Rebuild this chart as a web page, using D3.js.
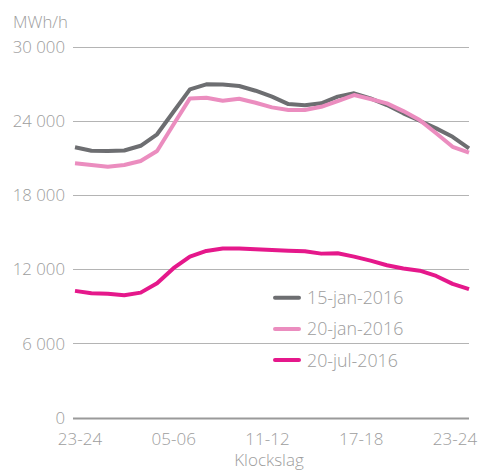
<!DOCTYPE html>
<html>
<head>
<meta charset="utf-8">
<script src="https://cdn.jsdelivr.net/npm/d3@7"></script>
<style>
  body { margin: 0; background: #fff; }
  svg text { font-family: "Open Sans", sans-serif; font-weight: 300; fill: #9d9d9d; }
</style>
</head>
<body>
<svg id="chart" width="479" height="472"></svg>
<script>
// timmar (25 punkter, 23-24 ... 23-24)
var hours = d3.range(25);
var xLabels = ["23-24", "05-06", "11-12", "17-18", "23-24"];
var yTicks = [0, 6000, 12000, 18000, 24000, 30000];

var seriesNames = ["15-jan-2016", "20-jan-2016", "20-jul-2016"];
var seriesColors = ["#6d6e71", "#eb8dbf", "#e5188b"];

var jan15 = [21900, 21620, 21600, 21640, 22020, 22950, 24780, 26590, 27000, 26980, 26860, 26480,
             26000, 25400, 25300, 25460, 26000, 26270, 25860, 25320, 24650, 24050, 23430, 22750, 21810];
var jan20 = [20600, 20460, 20320, 20460, 20790, 21600, 23740, 25860, 25910, 25670, 25830, 25510,
             25130, 24920, 24920, 25180, 25640, 26130, 25810, 25460, 24830, 24100, 23030, 21940, 21460];
var jul20 = [10260, 10070, 10020, 9910, 10120, 10880, 12100, 13040, 13500, 13690, 13690, 13640,
             13580, 13520, 13470, 13280, 13310, 13040, 12710, 12340, 12070, 11900, 11470, 10830, 10400];

var series = [jan15, jan20, jul20];

var svg = d3.select("#chart");

// skalor
var x = d3.scaleLinear().domain([0, 24]).range([75, 469]);
var xLab = d3.scalePoint().domain(d3.range(xLabels.length)).range([80, 455]);
var y = d3.scaleLinear().domain([0, 30000]).range([417.5, 47.3]);

var fmt = function(v){ return d3.format(",")(v).replace(/,/g, " "); };

// rutnät
svg.append("g").selectAll("line").data(yTicks).enter().append("line")
  .attr("x1", 73).attr("x2", 469)
  .attr("y1", function(d){ return Math.round(y(d)) + 0.5; })
  .attr("y2", function(d){ return Math.round(y(d)) + 0.5; })
  .attr("stroke", function(d){ return d === 0 ? "#9a9a9a" : "#b4b4b4"; })
  .attr("stroke-width", function(d){ return d === 0 ? 2 : 1; });

// y-etiketter
svg.append("g").selectAll("text").data(yTicks).enter().append("text")
  .attr("x", 65).attr("y", function(d){ return y(d); })
  .attr("dy", "0.36em")
  .attr("text-anchor", "end")
  .style("font-size", "16.8px")
  .text(fmt);

svg.append("text").attr("x", 13).attr("y", 28).style("font-size", "16.8px").text("MWh/h");

// x-etiketter
svg.append("g").selectAll("text").data(xLabels).enter().append("text")
  .attr("x", function(d, i){ return xLab(i); })
  .attr("y", 445)
  .attr("text-anchor", "middle")
  .style("font-size", "17px")
  .text(function(d){ return d; });

svg.append("text").attr("x", 269).attr("y", 466).attr("text-anchor", "middle")
  .style("font-size", "17px").text("Klockslag");

// linjer
var line = d3.line()
  .x(function(d, i){ return x(hours[i]); })
  .y(function(d){ return y(d); });

svg.append("g").selectAll("path").data(series).enter().append("path")
  .attr("d", line)
  .attr("fill", "none")
  .attr("stroke", function(d, i){ return seriesColors[i]; })
  .attr("stroke-width", 4)
  .attr("stroke-linejoin", "round");

// legend
var leg = svg.append("g").selectAll("g").data(seriesNames).enter().append("g")
  .attr("transform", function(d, i){ return "translate(275," + (297.7 + i * 31.2) + ")"; });
leg.append("line").attr("x1", 0).attr("x2", 24)
  .attr("stroke", function(d, i){ return seriesColors[i]; })
  .attr("stroke-width", 4).attr("stroke-linecap", "round");
leg.append("text").attr("x", 32).attr("dy", "0.36em")
  .style("font-size", "17.8px")
  .text(function(d){ return d; });
</script>
</body>
</html>
